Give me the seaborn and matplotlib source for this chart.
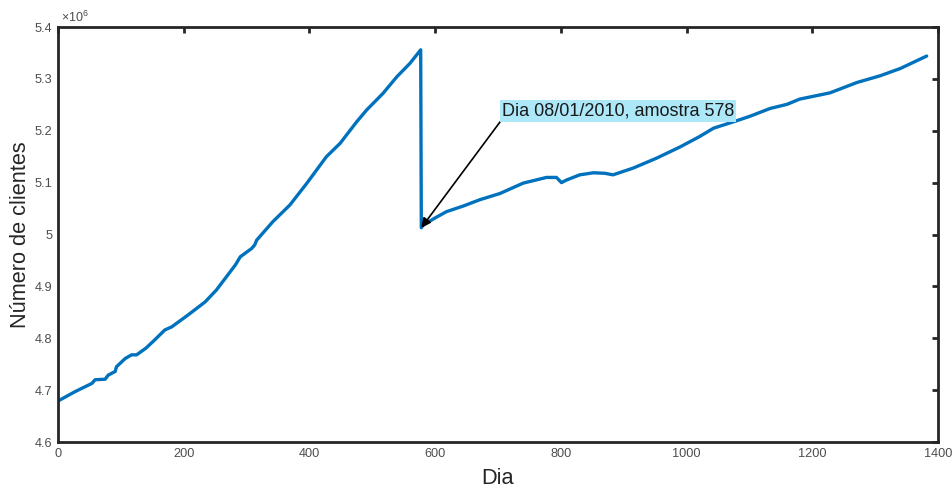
import matplotlib
matplotlib.use("Agg")
import matplotlib.pyplot as plt
from matplotlib.ticker import FuncFormatter
import seaborn as sns
import pandas as pd

# Daily customer count (samples)
dia = [0, 27, 54, 59, 75, 80, 91, 93, 107, 117, 125, 140, 154, 170, 181,
       207, 234, 252, 282, 290, 308, 313, 316, 342, 369, 396, 427, 449, 475,
       491, 517, 539, 560, 577, 578, 581, 600, 618, 645, 671, 703, 740, 777,
       793, 801, 809, 830, 852, 870, 883, 915, 952, 990, 1021, 1043, 1074,
       1101, 1133, 1160, 1180, 1196, 1228, 1271, 1308, 1340, 1382]
clientes = [4679000, 4697000, 4713000, 4720000, 4721000, 4729000, 4736000,
            4745000, 4761000, 4768000, 4768000, 4781000, 4797000, 4816000,
            4822000, 4845000, 4870000, 4893000, 4941000, 4957000, 4973000,
            4980000, 4989000, 5025000, 5057000, 5099000, 5150000, 5176000,
            5217000, 5240000, 5272000, 5304000, 5330000, 5356000, 5013000,
            5018000, 5032000, 5044000, 5055000, 5067000, 5079000, 5099000,
            5110000, 5110000, 5100000, 5105000, 5115000, 5119000, 5118000,
            5115000, 5128000, 5147000, 5169000, 5189000, 5205000, 5217000,
            5228000, 5243000, 5251000, 5261000, 5265000, 5273000, 5293000,
            5306000, 5320000, 5344000]

x_ticks = [0, 200, 400, 600, 800, 1000, 1200, 1400]
y_ticks = [4.6e6, 4.7e6, 4.8e6, 4.9e6, 5.0e6, 5.1e6, 5.2e6, 5.3e6, 5.4e6]

amostra = 578
rotulo = "Dia 08/01/2010, amostra 578"

df = pd.DataFrame({"Dia": dia, "Clientes": clientes})

sns.set_theme(style="white")
plt.rcParams["font.family"] = ["Liberation Sans", "DejaVu Sans"]
plt.rcParams["mathtext.fontset"] = "custom"
plt.rcParams["mathtext.rm"] = "Liberation Sans"

fig = plt.figure(figsize=(9.53, 4.88), dpi=100)
ax = fig.add_axes([58 / 953, 46 / 488, 880 / 953, 415 / 488])

sns.lineplot(data=df, x="Dia", y="Clientes", ax=ax, color="#0072BD",
             linewidth=2.4, sort=False, estimator=None)

ax.set_xlim(0, 1400)
ax.set_ylim(4.6e6, 5.4e6)
ax.set_xticks(x_ticks)
ax.set_yticks(y_ticks)
ax.yaxis.set_major_formatter(FuncFormatter(lambda v, p: "%g" % round(v / 1e6, 2)))

for s in ax.spines.values():
    s.set_visible(True)
    s.set_color("#262626")
    s.set_linewidth(2.0)

ax.tick_params(axis="both", which="major", direction="in", length=4.5,
               width=2.0, color="#262626", labelsize=9.2, labelcolor="#4d4d4d",
               top=True, right=True, pad=4)

ax.set_xlabel("Dia", fontsize=15.7, color="#262626", labelpad=6)
ax.set_ylabel("Número de clientes", fontsize=15.7, color="#262626", labelpad=3)

ax.text(0.003, 1.006, r"$\times\mathregular{10^{6}}$", transform=ax.transAxes,
        fontsize=9, color="#4d4d4d", ha="left", va="bottom")

y_amostra = clientes[dia.index(amostra)]
ax.annotate(rotulo, xy=(amostra, y_amostra), xytext=(706, 5.2215e6),
            fontsize=13, color="#1a1a1a", ha="left", va="bottom",
            bbox=dict(boxstyle="square,pad=0.12", fc="#ADE8F8", ec="none"),
            arrowprops=dict(arrowstyle="-|>", color="black", lw=1.2,
                            mutation_scale=14, relpos=(0, 0),
                            shrinkA=0, shrinkB=0))

fig.savefig("out.png", dpi=100, facecolor="white")
